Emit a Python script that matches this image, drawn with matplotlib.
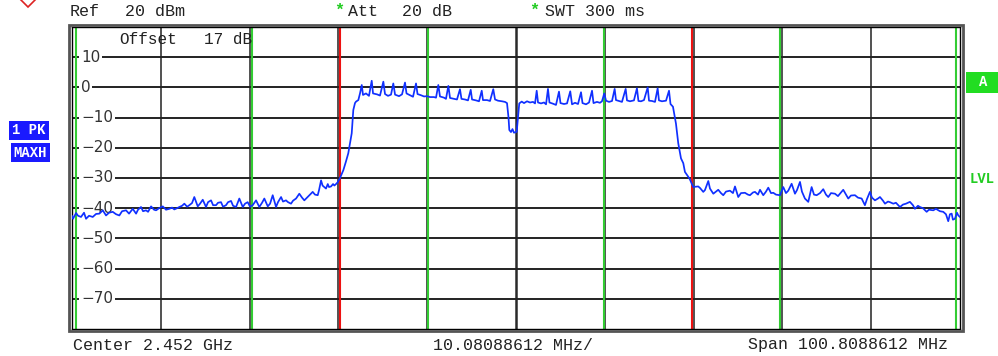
import matplotlib
matplotlib.use("Agg")
import matplotlib.pyplot as plt
from matplotlib.patches import Rectangle
import matplotlib.transforms as mtransforms

# ---------- Data (offset from center, MHz / dBm) ----------
freq_mhz = [
    -50.40, -50.29, -49.94, -49.72, -49.38, -49.04, -48.81, -48.47, -48.05, -47.67,
    -47.30, -46.91, -46.54, -46.20, -45.78, -45.40, -45.03, -44.72, -44.27, -43.93,
    -43.51, -43.13, -42.91, -42.57, -42.34, -42.00, -41.77, -41.43, -41.09, -40.86,
    -40.52, -40.10, -39.73, -39.35, -39.05, -38.79, -38.48, -38.22, -37.91, -37.65,
    -37.34, -37.08, -36.78, -36.52, -36.13, -35.87, -35.56, -35.19, -34.96, -34.62,
    -34.39, -34.05, -33.83, -33.49, -33.26, -32.92, -32.69, -32.35, -32.12, -31.78,
    -31.41, -31.02, -30.76, -30.46, -30.19, -29.89, -29.51, -29.14, -28.83, -28.57,
    -28.18, -27.92, -27.62, -27.24, -27.02, -26.67, -26.45, -26.11, -25.88, -25.54,
    -25.31, -24.97, -24.60, -24.29, -24.03, -23.72, -23.46, -23.08, -22.82, -22.51,
    -22.36, -22.13, -21.96, -21.76, -21.57, -21.37, -21.23, -21.00, -20.77, -20.62,
    -20.43, -20.24,
    # rising edge + left plateau
    -19.98, -19.60, -19.30, -19.04, -18.84, -18.65, -18.56, -18.47, -18.28, -18.16,
    -17.90, -17.71, -17.51, -17.37, -17.03, -16.69, -16.38, -16.23, -15.78, -15.44,
    -15.06, -14.87, -14.53, -14.19, -13.93, -13.73, -13.28, -12.94, -12.60, -12.43,
    -12.03, -11.69, -11.35, -11.18, -10.78, -10.44, -10.10, -9.76, -9.31, -9.08,
    -8.82, -8.63, -8.17, -7.95, -7.68, -7.49, -7.04, -6.70, -6.36, -6.19,
    -5.79, -5.45, -5.14, -4.99, -4.54, -4.20, -3.89, -3.75, -3.29, -2.95,
    -2.58, -2.38, -2.04, -1.59, -1.25, -1.02, -0.85, -0.76, -0.57, -0.40,
    -0.23, 0.08, 0.23, 0.37,
    # right plateau
    0.65, 0.91, 1.25, 1.59, 1.93, 2.16, 2.35, 2.50, 2.84, 3.18,
    3.41, 3.63, 3.80, 4.20, 4.54, 4.88, 5.05, 5.45, 5.79, 6.16,
    6.36, 6.70, 7.04, 7.38, 7.55, 7.95, 8.29, 8.63, 8.80, 9.19,
    9.53, 9.76, 10.02, 10.22, 10.56, 10.90, 11.20, 11.35, 11.69, 12.03,
    12.45, 12.60, 12.94, 13.39, 13.73, 13.90, 14.19, 14.53, 14.95, 15.10,
    15.44, 15.78, 16.08, 16.23, 16.57, 17.03, 17.37, 17.54, 17.82, 18.16,
    18.42, 18.73, 18.99, 19.18, 19.56, 19.75, 19.94,
    # right noise floor
    20.13, 20.32, 20.69, 20.89, 21.26, 21.45, 21.83, 22.02, 22.40, 22.70,
    22.96, 23.27, 23.53, 23.84, 24.29, 24.63, 24.86, 25.23, 25.54, 25.99,
    26.33, 26.56, 26.90, 27.13, 27.47, 27.70, 28.07, 28.38, 28.64, 28.95,
    29.21, 29.51, 29.97, 30.34, 30.65, 30.91, 31.29, 31.67, 31.90, 32.24,
    32.46, 32.80, 33.18, 33.56, 33.83, 34.13, 34.51, 34.88, 35.19, 35.45,
    35.76, 36.21, 36.55, 36.78, 37.15, 37.46, 37.72, 38.03, 38.48, 38.82,
    39.24, 39.61, 39.84, 40.18, 40.41, 40.75, 41.09, 41.32, 41.66, 41.89,
    42.23, 42.45, 42.83, 43.13, 43.59, 43.93, 44.27, 44.72, 45.06, 45.29,
    45.63, 45.86, 46.20, 46.62, 46.88, 47.37, 47.67, 48.13, 48.50, 48.81,
    49.07, 49.26, 49.46, 49.60, 49.83, 50.06, 50.21, 50.40,
]

level_dbm = [
    -42.6, -43.5, -41.6, -42.5, -42.9, -41.5, -43.5, -42.5, -42.9, -41.9,
    -41.8, -40.7, -42.4, -41.5, -41.2, -42.0, -42.4, -41.0, -40.7, -41.8,
    -40.2, -41.8, -40.5, -39.6, -41.0, -40.7, -41.2, -39.4, -40.5, -40.7,
    -40.0, -39.4, -40.5, -40.2, -39.8, -40.4, -40.0, -39.6, -39.2, -38.5,
    -39.5, -39.0, -38.3, -36.3, -39.4, -38.5, -37.2, -39.6, -38.0, -37.4,
    -39.0, -39.0, -38.2, -38.0, -39.5, -39.0, -38.0, -37.6, -39.2, -39.6,
    -36.8, -39.6, -38.5, -38.0, -39.5, -39.0, -37.4, -39.6, -38.2, -36.8,
    -39.4, -38.5, -35.7, -39.6, -38.0, -36.3, -37.8, -37.4, -38.0, -38.5,
    -37.5, -36.8, -35.2, -36.5, -37.4, -36.5, -35.7, -34.6, -35.5, -35.7,
    -34.0, -30.8, -32.5, -33.0, -33.5, -32.0, -33.0, -32.8, -32.0, -32.5,
    -32.0, -31.4,
    # rising edge + left plateau
    -30.0, -27.4, -24.5, -21.8, -18.5, -15.2, -11.5, -7.5, -5.2, -4.7,
    -4.2, -2.0, 0.8, -2.5, -2.0, -2.8, 2.2, -2.0, -2.3, -2.7,
    1.9, -2.2, -2.8, -2.4, 1.3, -2.4, -2.9, -2.3, 1.6, -2.0,
    -2.6, -3.1, 1.3, -2.2, -2.6, -3.0, -2.9, -3.2, -3.2, -3.4,
    0.8, -3.0, -3.4, -3.8, 0.5, -3.5, -3.8, -4.0, -0.6, -3.8,
    -4.0, -4.3, -0.8, -4.0, -4.3, -4.6, -1.1, -4.2, -4.2, -4.5,
    -0.6, -4.0, -4.4, -4.6, -4.8, -5.2, -10.0, -14.1, -14.8, -13.8,
    -15.0, -14.7, -10.0, -5.3,
    # right plateau
    -4.7, -5.2, -4.6, -5.0, -4.8, -5.3, -1.1, -5.0, -5.3, -5.0,
    -5.6, -0.5, -5.0, -5.4, -5.8, -1.4, -5.2, -5.5, -5.3, -1.3,
    -5.6, -5.1, -5.5, -1.6, -5.2, -5.6, -5.0, -1.1, -5.2, -4.8,
    -5.1, -4.6, -2.0, -4.4, -4.8, -4.5, -0.5, -4.2, -4.5, -4.8,
    -0.5, -4.3, -4.6, -4.3, -0.3, -4.5, -4.6, -4.2, 0.0, -4.4,
    -4.5, -4.8, -0.3, -4.3, -4.6, -4.4, -1.1, -5.5, -6.4, -12.0,
    -18.5, -23.5, -25.1, -28.0, -29.6, -30.5, -31.8,
    # right noise floor
    -33.0, -32.9, -32.8, -33.3, -34.6, -34.0, -31.0, -33.5, -35.2, -34.5,
    -33.9, -35.0, -35.7, -34.5, -34.2, -35.0, -32.8, -36.3, -35.0, -34.9,
    -35.5, -35.7, -34.8, -34.6, -35.5, -33.9, -35.7, -34.5, -33.2, -35.0,
    -34.9, -35.5, -35.7, -33.0, -35.0, -34.2, -31.9, -35.2, -34.0, -31.3,
    -34.5, -36.8, -37.9, -33.0, -35.5, -35.7, -35.0, -33.7, -35.5, -36.3,
    -35.0, -35.2, -36.0, -35.2, -33.9, -35.5, -36.8, -35.8, -35.7, -36.5,
    -36.8, -39.0, -37.0, -34.6, -36.5, -37.4, -36.8, -36.3, -37.5, -38.5,
    -37.8, -38.0, -38.5, -38.2, -39.6, -38.8, -38.5, -37.9, -39.0, -40.2,
    -39.2, -39.6, -40.0, -41.2, -40.5, -40.7, -40.2, -41.0, -41.2, -42.0,
    -44.3, -42.0, -41.8, -43.8, -43.5, -41.5, -42.4, -42.9,
]

span_mhz = 100.8088612
div_mhz = 10.08088612
y_min, y_max = -80, 20
y_ticks = [10, 0, -10, -20, -30, -40, -50, -60, -70]
red_lines = [-20, 20]
green_lines = [-50, -30, -10, 10, 30, 50]

W, H = 998, 356
MONO = ["Liberation Mono", "DejaVu Sans Mono"]

fig = plt.figure(figsize=(W / 100, H / 100), dpi=100)
fig.patch.set_facecolor("white")
ax = fig.add_axes([72 / W, 1 - 329 / H, 888 / W, 302 / H])
ax.set_xlim(-span_mhz / 2, span_mhz / 2)
ax.set_ylim(y_min, y_max)
ax.set_xticks([])
ax.set_yticks([])
for s in ax.spines.values():
    s.set_color("black")
    s.set_linewidth(1.0)

# grid
for i in range(1, 10):
    xv = -span_mhz / 2 + i * div_mhz
    ax.axvline(xv, color="#2a2a2a" if i == 5 else "#222222",
               lw=1.8 if i == 5 else 1.1, zorder=1)
for yv in y_ticks:
    ax.axhline(yv, color="#222222", lw=1.4, zorder=1)

# y labels inside the plot
trans = mtransforms.blended_transform_factory(ax.transAxes, ax.transData)
for yv in y_ticks:
    ax.text(0.0101, yv, "\u2212" + str(abs(yv)) if yv < 0 else str(yv),
            transform=trans, ha="left", va="center", fontsize=11,
            color="#333333", family="DejaVu Sans", zorder=3,
            bbox=dict(facecolor="white", edgecolor="none", pad=1.2))

# display lines
for xv in green_lines:
    ax.axvline(xv, color="#33cc33", lw=1.5, zorder=2)
for xv in red_lines:
    ax.axvline(xv, color="#ee1111", lw=1.5, zorder=2)

ax.plot(freq_mhz, level_dbm, color="#1030ff", lw=1.25, zorder=4)

# outer frame
fig.patches.append(Rectangle((69 / W, 1 - 331 / H), 894 / W, 306 / H,
                             transform=fig.transFigure, fill=False,
                             edgecolor="#555555", lw=2.0))


def ftxt(x, y, s, **kw):
    kw.setdefault("fontsize", 12)
    kw.setdefault("family", MONO)
    kw.setdefault("color", "#222222")
    fig.text(x / W, 1 - y / H, s, va="center", ha="left", **kw)


ftxt(119, 40, "Offset", fontsize=11.5)
ftxt(204, 40, "17 dB", fontsize=11.5)

# header
ftxt(70, 12, "Ref")
ftxt(125, 12, "20 dBm")
ftxt(334, 10, "*", color="#22cc22", fontweight="bold")
ftxt(348, 12, "Att")
ftxt(402, 12, "20 dB")
ftxt(529, 10, "*", color="#22cc22", fontweight="bold")
ftxt(545, 12, "SWT 300 ms")

# footer
ftxt(73, 345, "Center 2.452 GHz")
ftxt(433, 345, "10.08088612 MHz/")
ftxt(748, 345, "Span 100.8088612 MHz")

# left trace labels
fig.text(29 / W, 1 - 130.5 / H, "1 PK", fontsize=10, family=MONO,
         fontweight="bold", color="white", ha="center", va="center",
         bbox=dict(boxstyle="square,pad=0.2", facecolor="#1a1aff",
                   edgecolor="none"))
fig.text(30.5 / W, 1 - 152.5 / H, "MAXH", fontsize=10, family=MONO,
         fontweight="bold", color="white", ha="center", va="center",
         bbox=dict(boxstyle="square,pad=0.2", facecolor="#1a1aff",
                   edgecolor="none"))

# right labels
fig.patches.append(Rectangle((966 / W, 1 - 93 / H), 32 / W, 21 / H,
                             transform=fig.transFigure, facecolor="#22dd22",
                             edgecolor="none"))
fig.text(983 / W, 1 - 82.5 / H, "A", fontsize=10, family=MONO,
         fontweight="bold", color="white", ha="center", va="center")
fig.text(982 / W, 1 - 179 / H, "LVL", fontsize=10, family=MONO,
         fontweight="bold", color="#22cc22", ha="center", va="center")

# red marker diamond top-left (clipped by image edge)
fig.lines.append(plt.Line2D([28 / W], [1.0], transform=fig.transFigure,
                            marker="D", markersize=7, markerfacecolor="none",
                            markeredgecolor="#dd2222", markeredgewidth=1.2))

fig.savefig("out.png", dpi=100)
